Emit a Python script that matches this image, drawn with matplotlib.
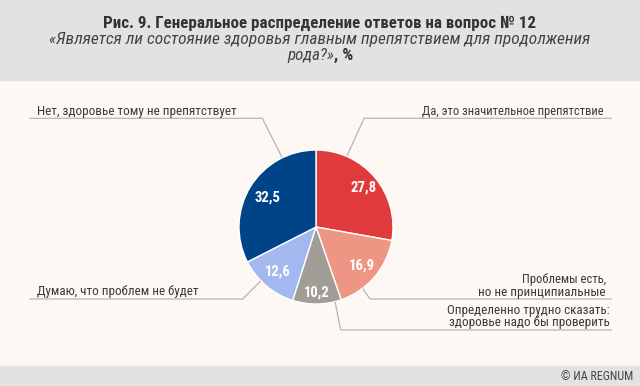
import numpy as np
import matplotlib
matplotlib.use("Agg")
import matplotlib.pyplot as plt
from matplotlib import font_manager as fm
from matplotlib.patches import Rectangle

categories = ["Да, это значительное препятствие",
              "Проблемы есть,\nно не принципиальные",
              "Определенно трудно сказать:\nздоровье надо бы проверить",
              "Думаю, что проблем не будет",
              "Нет, здоровье тому не препятствует"]
values = [27.8, 16.9, 10.2, 12.6, 32.5]
colors = ["#e03a3d", "#ee9584", "#a09c96", "#a3b8ef", "#004488"]

names = {f.name for f in fm.fontManager.ttflist}
FONT = next((n for n in ["Roboto Condensed", "Liberation Sans Narrow",
                         "Open Sans Condensed", "Roboto"] if n in names), "DejaVu Sans")
plt.rcParams['font.family'] = [FONT, 'DejaVu Sans']

W, H = 640, 386
fig = plt.figure(figsize=(6.4, 3.86), dpi=100)
fig.patch.set_facecolor("#fdf8f4")
ax = fig.add_axes([0, 0, 1, 1])
ax.set_xlim(0, W)
ax.set_ylim(0, H)
ax.axis("off")

def Y(y):
    return H - y

ax.add_patch(Rectangle((0, Y(80)), W, 80, color="#e2e2e2", zorder=0))
ax.add_patch(Rectangle((0, 0), W, H - 366, color="#e2e2e2", zorder=0))

cx, cy, R = 316, 227, 77
wedges, _ = ax.pie(values, colors=colors, startangle=90, counterclock=False,
                   center=(cx, Y(cy)), radius=R,
                   wedgeprops=dict(edgecolor="white", linewidth=1.0))
ax.set_xlim(0, W)
ax.set_ylim(0, H)

fit = []  # (text, target width px)

dists = [0.80, 0.78, 0.85, 0.76, 0.74]
for w, v, d in zip(wedges, values, dists):
    a = np.deg2rad((w.theta1 + w.theta2) / 2)
    t = ax.text(cx + d * R * np.cos(a), Y(cy) + d * R * np.sin(a),
                f"{v:.1f}".replace(".", ","), color="white", fontsize=11,
                fontweight="bold", ha="center", va="center")
    fit.append((t, 26))

leaders = [
    (66.4, (364, 118.3), 611),
    (-52.8, (370, 299), 611),
    (-75.7, (340.7, 330), 611),
    (-135.7, (242.7, 299), 30),
    (116.0, (262.3, 118.3), 30),
]
for ang, (ex, ey), endx in leaders:
    a = np.deg2rad(ang)
    px, py = cx + (R + 1) * np.cos(a), Y(cy) + (R + 1) * np.sin(a)
    ax.plot([px, ex, endx], [py, Y(ey), Y(ey)], color="#b5b5b5", lw=0.9,
            solid_joinstyle="miter", zorder=1)

lab_col = "#3a3a3a"
fs = 10.5
label_lines = [
    (0, 0, 603.5, 111.7, "right", 182),
    (1, 0, 606, 280.0, "right", 84),
    (1, 1, 606, 292.3, "right", 126),
    (2, 0, 610, 310.7, "right", 163),
    (2, 1, 610, 322.7, "right", 161),
    (3, 0, 37.3, 291.7, "left", 159),
    (4, 0, 37.3, 111.7, "left", 200),
]
for ci, li, x, y, ha, tw in label_lines:
    t = ax.text(x, Y(y), categories[ci].split("\n")[li], ha=ha, va="center",
                fontsize=fs, color=lab_col)
    fit.append((t, tw))

t = ax.text(319.4, Y(27.7), "Рис. 9. Генеральное распределение ответов на вопрос № 12",
            ha="center", va="baseline", fontsize=12.5, fontweight="bold", color="#333333")
fit.append((t, 432))
t = ax.text(319.2, Y(44.3), "«Является ли состояние здоровья главным препятствием для продолжения",
            ha="center", va="baseline", fontsize=12, fontstyle="italic", color="#444444")
fit.append((t, 540))
t1 = ax.text(334, Y(60), "рода?»", ha="right", va="baseline", fontsize=12,
             fontstyle="italic", color="#444444")
fit.append((t1, 47))
t2 = ax.text(334, Y(60), ", %", ha="left", va="baseline", fontsize=12,
             fontweight="bold", color="#333333")
fit.append((t2, 19))

t = ax.text(633, Y(376), "© ИА REGNUM", ha="right", va="center", fontsize=9.5, color="#444444")
fit.append((t, 72))

for _ in range(2):
    fig.canvas.draw()
    r = fig.canvas.get_renderer()
    for t, tw in fit:
        wpx = t.get_window_extent(r).width
        t.set_fontsize(t.get_fontsize() * tw / wpx)

fig.savefig("out.png", dpi=100, facecolor=fig.get_facecolor())
